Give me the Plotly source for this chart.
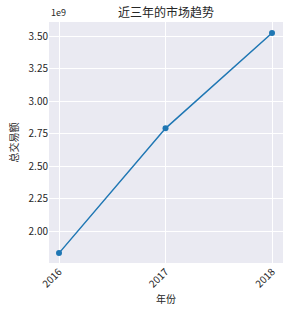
import plotly.graph_objects as go

years = [2016, 2017, 2018]
totals = [1.83e9, 2.79e9, 3.523e9]
y_tick_labels = ["2.00", "2.25", "2.50", "2.75", "3.00", "3.25", "3.50"]
x_tick_labels = ["2016", "2017", "2018"]

font = "Noto Sans CJK SC, DejaVu Sans, sans-serif"
fig = go.Figure()
fig.add_trace(go.Scatter(
    x=years, y=totals, mode="lines+markers",
    line=dict(color="#1f77b4", width=1.5),
    marker=dict(color="#1f77b4", size=6),
))
fig.update_layout(
    width=290, height=311,
    margin=dict(l=49, r=7, t=22, b=48),
    paper_bgcolor="white", plot_bgcolor="#EAEAF2",
    showlegend=False,
    font=dict(family=font, size=10, color="#262626"),
    title=dict(text="近三年的市场趋势", xref="paper", x=0.5, xanchor="center", y=0.96, yanchor="middle",
               font=dict(size=12, color="#262626")),
)
fig.update_xaxes(
    range=[2015.906, 2018.103], tickvals=years, ticktext=x_tick_labels,
    tickangle=-45, showgrid=True, gridcolor="white", gridwidth=1.2, zeroline=False,
    showline=False, ticks="", ticklen=0,
    title=dict(text="年份", font=dict(size=10), standoff=6),
)
fig.update_yaxes(
    range=[1.754e9, 3.608e9],
    tickvals=[float(t) * 1e9 for t in y_tick_labels], ticktext=y_tick_labels,
    showgrid=True, gridcolor="white", gridwidth=1.2, zeroline=False,
    showline=False, ticks="", ticklen=0,
    title=dict(text="总交易额", font=dict(size=10), standoff=8),
)
fig.add_annotation(text="1e9", xref="paper", yref="paper", x=0, y=1, xanchor="left",
                   yanchor="bottom", showarrow=False, font=dict(size=9, color="#262626"), yshift=1)
fig.write_html("out.html")
